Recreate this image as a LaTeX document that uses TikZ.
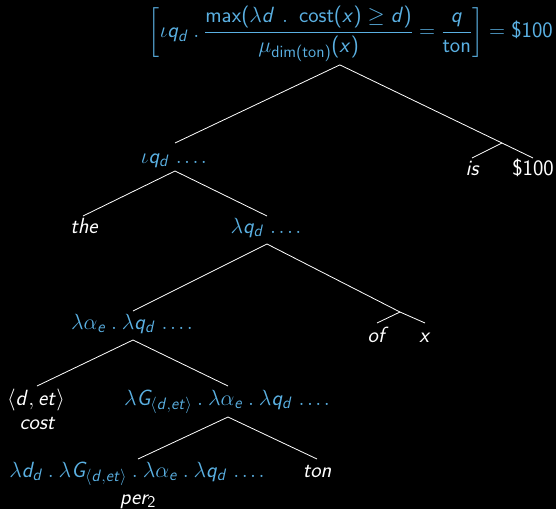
\RequirePackage{fix-cm}
\documentclass[tikz,border=0pt]{standalone}
\usepackage{amsmath}
\DeclareSymbolFont{sfletters}{OT1}{cmss}{m}{sl}
\SetSymbolFont{operators}{normal}{OT1}{cmss}{m}{n}
\newcount\lettercnt
\lettercnt=65
\loop
  \mathcode\lettercnt=\numexpr"7000+\symsfletters*"100+\lettercnt\relax
  \advance\lettercnt by 1
\ifnum\lettercnt<91 \repeat
\lettercnt=97
\loop
  \mathcode\lettercnt=\numexpr"7000+\symsfletters*"100+\lettercnt\relax
  \advance\lettercnt by 1
\ifnum\lettercnt<123 \repeat
\DeclareMathSizes{22}{22}{16.5}{12}
\newcommand\sep{\mathbin{.}}
\newcommand\etcdots{\mkern5mu.\mkern2mu.\mkern2mu.\mkern2mu.}
\definecolor{semblue}{RGB}{90,176,226}
\begin{document}
\begin{tikzpicture}[x=1pt,y=-1pt,
  every node/.style={inner sep=0pt, anchor=base, font=\fontsize{22}{26}\selectfont\sffamily},
  sem/.style={text=semblue},
  wd/.style={text=white, font=\fontsize{22}{26}\selectfont\sffamily\itshape},
  edge/.style={draw=white, line width=0.8pt}]
\fill[black] (0,0) rectangle (556,509);
\useasboundingbox (0,0) rectangle (556,509);
% nodes
\node[sem, anchor=east] (root) at (553,34) {$\delimitershortfall=20pt\delimiterfactor=700
  \left[\iota q_d \sep \dfrac{\max(\lambda d \mkern6mu.\mkern9mu \mathrm{cost}(x) \geq d)}{\mu_{\mathrm{dim(ton)}}(x)} = \dfrac{q}{\mathrm{ton}}\right] = \$100$};
\node[sem] (iota) at (174,163) {$\iota q_d \etcdots$};
\coordinate (vp) at (502,143);
\node[wd] (is) at (472,175) {is};
\node[text=white] (price) at (533,175) {\$100};
\node[wd] (the) at (84,233) {the};
\node[sem] (lq) at (266,233) {$\lambda q_d \etcdots$};
\node[sem] (la) at (132,329) {$\lambda \alpha_e \sep \lambda q_d \etcdots$};
\coordinate (pp) at (400,312);
\node[wd] (of) at (376,342) {of};
\node[text=white] (x) at (425,342) {$x$};
\node[text=white] (dett) at (36,405) {$\langle d, et\rangle$};
\node[wd] (cost) at (37,429) {cost};
\node[sem] (lG) at (227,405) {$\lambda G_{\langle d,et\rangle} \sep \lambda \alpha_e \sep \lambda q_d \etcdots$};
\node[sem] (ld) at (137,477) {$\lambda d_d \sep \lambda G_{\langle d,et\rangle} \sep \lambda \alpha_e \sep \lambda q_d \etcdots$};
\node[wd] (per) at (138,504) {per$_2$};
\node[wd] (ton) at (317,477) {ton};
% connectors
\draw[edge] ([shift={(-11,3)}]root.south) -- ([shift={(1,-20)}]iota.base);
\draw[edge] ([shift={(-11,3)}]root.south) -- (vp);
\draw[edge] (vp) -- ([shift={(0,-17)}]is.base);
\draw[edge] (vp) -- ([shift={(0,-17)}]price.base);
\draw[edge] ([shift={(1,8)}]iota.base) -- ([shift={(-1,-17)}]the.base);
\draw[edge] ([shift={(1,8)}]iota.base) -- ([shift={(1,-17)}]lq.base);
\draw[edge] ([shift={(1,11)}]lq.base) -- ([shift={(1,-18)}]la.base);
\draw[edge] ([shift={(1,11)}]lq.base) -- (pp);
\draw[edge] (pp) -- ([shift={(1,-19)}]of.base);
\draw[edge] (pp) -- ([shift={(0,-19)}]x.base);
\draw[edge] ([shift={(1,11)}]la.base) -- ([shift={(1,-19)}]dett.base);
\draw[edge] ([shift={(1,11)}]la.base) -- ([shift={(1,-19)}]lG.base);
\draw[edge] ([shift={(1,12)}]lG.base) -- ([shift={(1,-18)}]ld.base);
\draw[edge] ([shift={(1,12)}]lG.base) -- ([shift={(0,-18)}]ton.base);
\end{tikzpicture}
\end{document}
